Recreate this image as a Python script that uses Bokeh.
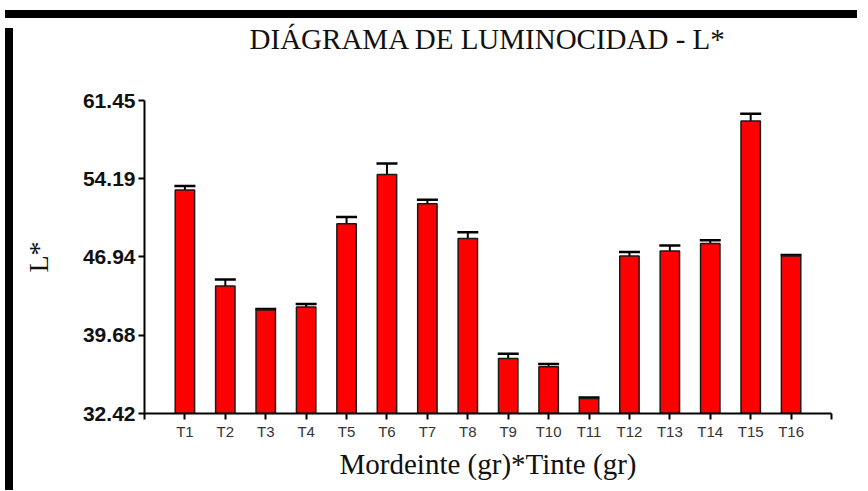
from bokeh.plotting import figure
from bokeh.models import FixedTicker, Whisker, TeeHead, ColumnDataSource, Div, Spacer, Label
from bokeh.layouts import column, row
from bokeh.embed import file_html
from bokeh.resources import INLINE

categories = ["T1", "T2", "T3", "T4", "T5", "T6", "T7", "T8",
              "T9", "T10", "T11", "T12", "T13", "T14", "T15", "T16"]
means = [53.14, 44.24, 42.01, 42.29, 50.02, 54.59, 51.87, 48.65,
         37.52, 36.75, 33.81, 47.02, 47.49, 48.19, 59.54, 47.02]
errors = [0.37, 0.61, 0.10, 0.28, 0.62, 1.02, 0.37, 0.59,
          0.44, 0.25, 0.09, 0.37, 0.52, 0.31, 0.68, 0.10]
y_ticks = [32.42, 39.68, 46.94, 54.19, 61.45]
y_tick_labels = ["32.42", "39.68", "46.94", "54.19", "61.45"]

title_text = "DIÁGRAMA DE LUMINOCIDAD - L*"
x_label = "Mordeinte (gr)*Tinte (gr)"
y_label = "L*"

xs = list(range(1, len(categories) + 1))
upper = [m + e for m, e in zip(means, errors)]
src = ColumnDataSource(dict(x=xs, top=means, upper=upper, cat=categories))

Y0, Y1 = y_ticks[0], y_ticks[-1]

BL, BR, BT, BB = 126, 27, 42, 72
FW, FH = 687, 313
W, H = BL + FW + BR, BT + FH + BB
TITLE_H = 35

p = figure(width=W, height=H, x_range=(0, len(categories) + 1), y_range=(Y0, Y1),
           output_backend="svg", toolbar_location=None,
           min_border_left=BL, min_border_right=BR, min_border_top=BT, min_border_bottom=BB)

p.outline_line_color = None
p.xgrid.grid_line_color = None
p.ygrid.grid_line_color = None
p.background_fill_color = "white"
p.border_fill_color = "white"

p.vbar(x="x", top="top", bottom=Y0, width=0.48, source=src,
       fill_color="#ff0000", line_color="#1a1a1a", line_width=1.5)

wh = Whisker(base="x", upper="upper", lower="top", source=src,
             upper_head=TeeHead(size=21, line_width=2.5, line_color="black"),
             lower_head=None, line_width=2, line_color="black")
p.add_layout(wh)

for ax in (p.xaxis[0], p.yaxis[0]):
    ax.axis_line_width = 2
    ax.axis_line_color = "black"
    ax.major_tick_line_width = 2
    ax.major_tick_line_color = "black"
    ax.major_tick_out = 6
    ax.major_tick_in = 0
    ax.minor_tick_line_color = None

p.xaxis.ticker = FixedTicker(ticks=list(range(0, len(categories) + 2)))
ovr = {i: c for i, c in zip(xs, categories)}
ovr[0] = ""
ovr[len(categories) + 1] = ""
p.xaxis.major_label_overrides = ovr
p.xaxis.major_label_text_font = "Liberation Sans"
p.xaxis.major_label_text_font_size = "15px"
p.xaxis.major_label_text_color = "#333333"
p.xaxis.major_label_standoff = 3
p.xaxis.axis_label = x_label
p.xaxis.axis_label_text_font = "Liberation Serif"
p.xaxis.axis_label_text_font_size = "29px"
p.xaxis.axis_label_text_font_style = "normal"
p.xaxis.axis_label_text_color = "#111111"
p.xaxis.axis_label_standoff = 5

p.yaxis.ticker = FixedTicker(ticks=y_ticks)
p.yaxis.major_label_overrides = {v: s for v, s in zip(y_ticks, y_tick_labels)}
p.yaxis.major_label_text_font = "Liberation Sans"
p.yaxis.major_label_text_font_size = "21px"
p.yaxis.major_label_text_font_style = "bold"
p.yaxis.major_label_text_color = "#111111"
p.yaxis.major_label_standoff = 3
p.yaxis.axis_label = y_label
p.yaxis.axis_label_text_font = "Liberation Serif"
p.yaxis.axis_label_text_font_size = "28px"
p.yaxis.axis_label_text_font_style = "normal"
p.yaxis.axis_label_text_color = "#111111"
p.yaxis.axis_label_standoff = 26

# title strip: a figure sharing the x range, whose y range is in pixels
tfig = figure(width=W, height=TITLE_H, x_range=p.x_range, y_range=(0, TITLE_H),
              x_axis_type=None, y_axis_type=None, output_backend="svg", toolbar_location=None,
              min_border_left=BL, min_border_right=BR, min_border_top=0, min_border_bottom=0)
tfig.outline_line_color = None
tfig.background_fill_color = "white"
tfig.border_fill_color = "white"
tfig.add_layout(Label(x=(len(categories) + 1) / 2, y=19.5, text=title_text,
                      text_font="Liberation Serif", text_font_size="29px", text_color="#111111",
                      text_align="center", text_baseline="alphabetic"))

top_bar = Div(text="", width=W + 12, height=8, styles={"background-color": "black"})
left_bar = Div(text="", width=8, height=TITLE_H + H, styles={"background-color": "black"})
layout = column(Spacer(height=5), top_bar, row(left_bar, column(tfig, p)))

open("out.html", "w").write(file_html(layout, INLINE))
